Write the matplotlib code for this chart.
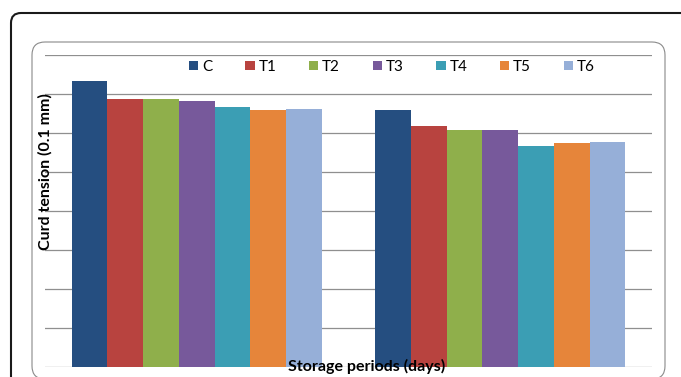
import numpy as np
import matplotlib.pyplot as plt
from matplotlib.patches import FancyBboxPatch, Patch

plt.rcParams['font.family'] = ['Lato', 'DejaVu Sans']

# Curd tension (0.1 mm) per treatment at each storage period
periods = ['Period 1', 'Period 2']
treatments = ['C', 'T1', 'T2', 'T3', 'T4', 'T5', 'T6']
tension_p1 = [73.4, 68.7, 68.7, 68.3, 66.7, 66.0, 66.2]
tension_p2 = [66.0, 61.9, 60.8, 60.8, 56.7, 57.4, 57.8]
colors = ['#254E80', '#B8433F', '#8FAF4B', '#77599B', '#3B9EB4', '#E6853A', '#96AFD8']

values = np.array([tension_p1, tension_p2])

fig = plt.figure(figsize=(6.81, 3.77), dpi=100)

# outer frame and chart-area frame (pixel coordinates)
outer = FancyBboxPatch((11, -40), 720, 404, boxstyle='round,pad=0,rounding_size=10',
                       transform=None, facecolor='white', edgecolor='#1a1a1a',
                       linewidth=1.5, zorder=-10)
inner = FancyBboxPatch((32, -2), 633, 337, boxstyle='round,pad=0,rounding_size=13',
                       transform=None, facecolor='white', edgecolor='#8a8a8a',
                       linewidth=0.8, zorder=-9)
fig.patches.extend([outer, inner])

ax = fig.add_axes([45 / 681, 1 - 367 / 377, 607 / 681, 312 / 377])
ax.set_facecolor('none')

x = np.arange(len(periods))
width = 0.1177
for i, name in enumerate(treatments):
    offset = (i - 3) * width
    ax.bar(x + offset, values[:, i], width, color=colors[i], label=name, zorder=3)

ax.set_xlim(-0.5, 1.5)
ax.set_ylim(0, 80)
ax.set_yticks(np.arange(0, 81, 10))
ax.yaxis.grid(True, color='#8f8f8f', linewidth=0.9, zorder=0)
ax.tick_params(left=False, bottom=False, labelleft=False, labelbottom=False)
for s in ax.spines.values():
    s.set_visible(False)

handles = [Patch(facecolor=c, label=t) for c, t in zip(colors, treatments)]
fig.legend(handles=handles, loc='center', bbox_to_anchor=(392 / 681, 1 - 67 / 377),
           ncol=7, frameon=False, fontsize=11, handlelength=0.6, handleheight=0.6,
           handletextpad=0.25, columnspacing=2.15, borderpad=0)

fig.text(45 / 681, 1 - 172 / 377, 'Curd tension (0.1 mm)', rotation=90,
         ha='center', va='center', fontsize=11.5, fontweight='bold', zorder=5)
fig.text(367 / 681, 1 - 366 / 377, 'Storage periods (days)',
         ha='center', va='center', fontsize=11.5, fontweight='bold', zorder=5)

fig.savefig('out.png', dpi=100)
